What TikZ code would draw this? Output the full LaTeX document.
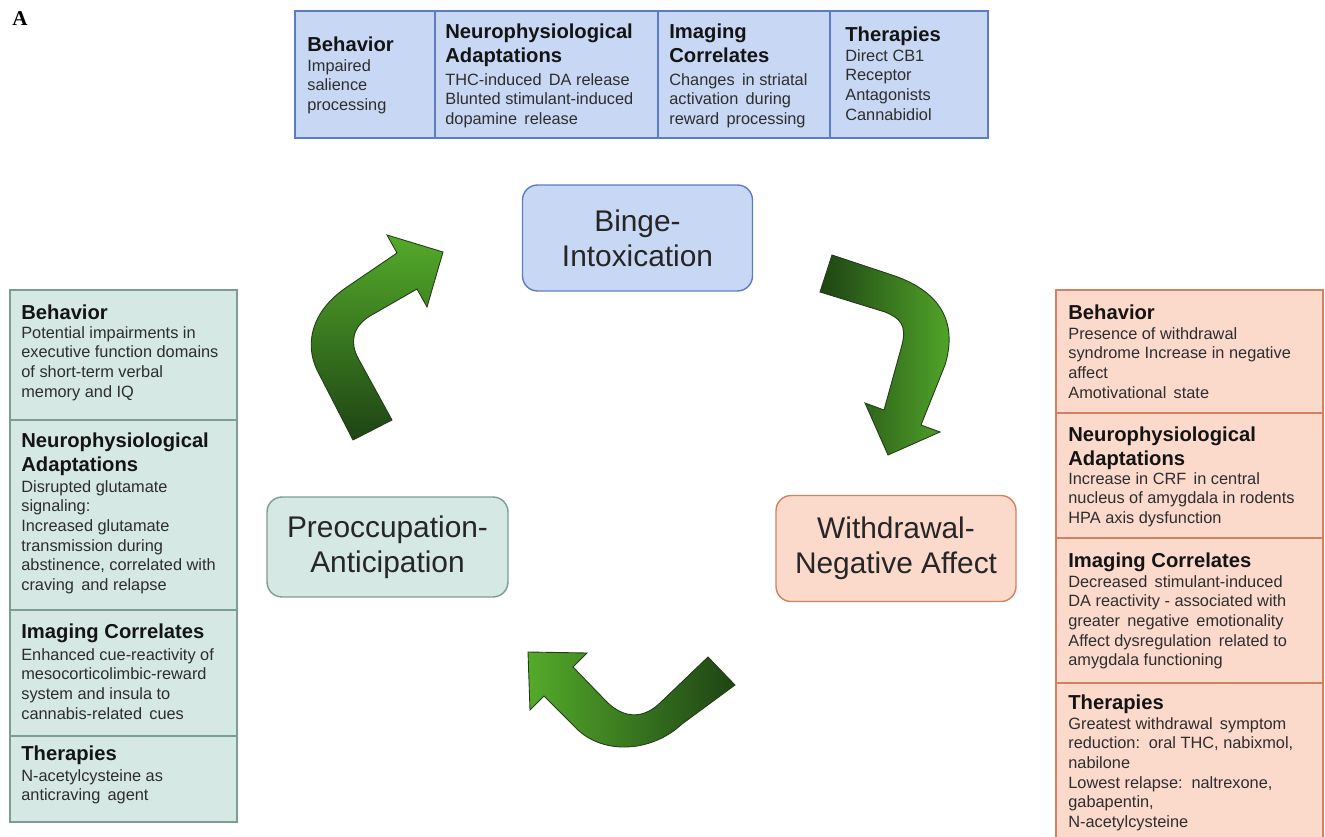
\documentclass[tikz,border=0pt]{standalone}
\usepackage{fontspec}
\setmainfont{Liberation Sans}
\newfontfamily\serifA{Liberation Serif}
\definecolor{bfill}{RGB}{200,216,244}
\definecolor{bline}{RGB}{92,124,200}
\definecolor{tfill}{RGB}{213,232,227}
\definecolor{tline}{RGB}{122,158,148}
\definecolor{sfill}{RGB}{251,218,204}
\definecolor{sline}{RGB}{212,128,100}
\definecolor{gdark}{RGB}{30,68,20}
\definecolor{gbright}{RGB}{84,170,42}
\definecolor{gedge}{RGB}{35,60,25}
\definecolor{txt}{RGB}{45,45,45}
\begin{document}
\begin{tikzpicture}[x=0.02cm,y=-0.02cm,
  hd/.style={anchor=north west, inner sep=0, align=left, font=\fontsize{11.5}{13.6}\selectfont\bfseries, text=black!92},
  bd/.style={anchor=north west, inner sep=0, align=left, font=\fontsize{9.3}{11.2}\selectfont, text=txt},
  phase/.style={rounded corners=0.3cm, draw, line width=0.8pt, align=center, font=\fontsize{17}{20}\selectfont, text=black!85, minimum width=4.6cm, minimum height=2.12cm, inner sep=0},
  panel/.style={draw, line width=0.8pt, inner sep=0},
  blockarrow/.style={draw=gedge, line width=0.5pt}]
\useasboundingbox (0,0) rectangle (1325,837);

% label
\node[anchor=base west, inner sep=0, font=\serifA\fontsize{12}{14}\selectfont\bfseries] (lblA) at (12,26) {A};

% top table
\node[panel, draw=bline, fill=bfill, minimum width=13.86cm, minimum height=2.54cm] (table) at (641.5,74.5) {};
\draw[bline, line width=0.8pt] (435,11) -- (435,138);
\draw[bline, line width=0.8pt] (658,11) -- (658,138);
\draw[bline, line width=0.8pt] (830,11) -- (830,138);
\node[hd] (tbh) at (307,37) {Behavior};
\node[bd] (tbb) at (307,59) {Impaired\\salience\\processing};
\node[hd] (tnh) at (445,24) {Neurophysiological\\Adaptations};
\node[bd] (tnb) at (445,73) {THC-induced\, DA release\\Blunted stimulant-induced\\dopamine\, release};
\node[hd] (tih) at (669,24) {Imaging\\Correlates};
\node[bd] (tib) at (669,73) {Changes\, in striatal\\activation\, during\\reward\, processing};
\node[hd] (tth) at (845,27) {Therapies};
\node[bd] (ttb) at (845,49) {Direct CB1\\Receptor\\Antagonists\\Cannabidiol};

% left panel
\node[panel, draw=tline, fill=tfill, minimum width=4.54cm, minimum height=10.64cm] (lbox) at (123.5,556) {};
\draw[tline, line width=0.8pt] (10,420) -- (237,420);
\draw[tline, line width=0.8pt] (10,610) -- (237,610);
\draw[tline, line width=0.8pt] (10,736) -- (237,736);
\node[hd] (lbh) at (21,305) {Behavior};
\node[bd] (lbb) at (21,326) {Potential impairments in\\executive function domains\\of short-term verbal\\memory and IQ};
\node[hd] (lnh) at (21,433) {Neurophysiological\\Adaptations};
\node[bd] (lnb) at (21,480) {Disrupted glutamate\\signaling:\\Increased glutamate\\transmission during\\abstinence, correlated with\\craving\, and relapse};
\node[hd] (lih) at (21,624) {Imaging Correlates};
\node[bd] (lib) at (21,648) {Enhanced cue-reactivity of\\mesocorticolimbic-reward\\system and insula to\\cannabis-related\, cues};
\node[hd] (lth) at (21,746) {Therapies};
\node[bd] (ltb) at (21,769) {N-acetylcysteine as\\anticraving\, agent};

% right panel
\node[panel, draw=sline, fill=sfill, minimum width=5.34cm, minimum height=11.1cm] (rbox) at (1189.5,567.5) {};
\draw[sline, line width=0.8pt] (1056,413) -- (1323,413);
\draw[sline, line width=0.8pt] (1056,538) -- (1323,538);
\draw[sline, line width=0.8pt] (1056,683) -- (1323,683);
\node[hd] (rbh) at (1068,305) {Behavior};
\node[bd] (rbb) at (1068,327) {Presence of withdrawal\\syndrome Increase in negative\\affect\\Amotivational\, state};
\node[hd] (rnh) at (1068,427) {Neurophysiological\\Adaptations};
\node[bd] (rnb) at (1068,472) {Increase in CRF\, in central\\nucleus of amygdala in rodents\\HPA axis dysfunction};
\node[hd] (rih) at (1068,553) {Imaging Correlates};
\node[bd] (rib) at (1068,575) {Decreased\, stimulant-induced\\DA reactivity - associated with\\greater\, negative\, emotionality\\Affect dysregulation\, related to\\amygdala functioning};
\node[hd] (rth) at (1068,695) {Therapies};
\node[bd] (rtb) at (1068,717) {Greatest withdrawal\, symptom\\reduction:\, oral THC, nabixmol,\\nabilone\\Lowest relapse:\, naltrexone,\\gabapentin,\\N-acetylcysteine};

% phase nodes
\node[phase, draw=bline, fill=bfill] (binge) at (637.5,238) {Binge-\\Intoxication};
\node[phase, draw=sline, fill=sfill, minimum width=4.8cm] (withdraw) at (896,548.5) {Withdrawal-\\Negative Affect};
\node[phase, draw=tline, fill=tfill, minimum width=4.82cm, minimum height=2.0cm] (preocc) at (387.5,547) {Preoccupation-\\Anticipation};

% block arrows
\shadedraw[blockarrow, top color=gbright, bottom color=gdark]
  (353,440) -- (317,370) .. controls (305,345) and (310,312) .. (347,287)
  -- (397,253) -- (387,235) -- (443,252) -- (427,307) -- (417,289)
  -- (370,316) .. controls (352,327) and (350,343) .. (358,358)
  -- (392,420) -- cycle;
\shadedraw[blockarrow, left color=gdark, right color=gbright]
  (832,255) -- (895,276) .. controls (940,292) and (958,322) .. (945,365)
  -- (921,425) -- (940,432) -- (888,455) -- (865,403) -- (884,410)
  -- (902,345) .. controls (907,325) and (900,318) .. (885,312)
  -- (820,292) -- cycle;
\shadedraw[blockarrow, left color=gbright, right color=gdark]
  (708,657) -- (660,703) .. controls (640,722) and (620,716) .. (605,700)
  -- (573,667) -- (587,653) -- (528,652) -- (530,710) -- (544,696)
  -- (578,730) .. controls (605,755) and (652,752) .. (682,724)
  -- (735,685) -- cycle;
\end{tikzpicture}
\end{document}
